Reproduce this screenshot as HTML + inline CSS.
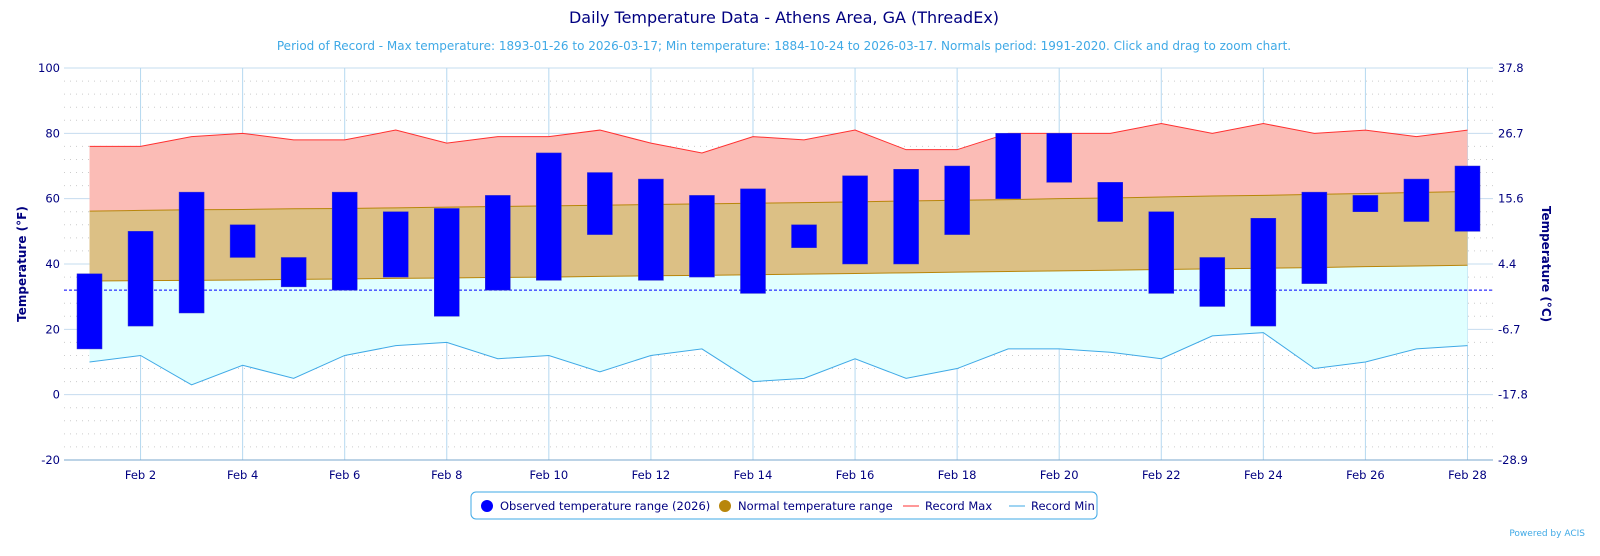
<!DOCTYPE html>
<html><head><meta charset="utf-8"><style>
body{margin:0;background:#fff;font-family:"DejaVu Sans","Liberation Sans",sans-serif}
svg text{font-family:"DejaVu Sans","Liberation Sans",sans-serif}
</style></head><body>
<svg id="c" width="1600" height="552" xmlns="http://www.w3.org/2000/svg">
<text x="784" y="23" text-anchor="middle" font-size="16" fill="#000080">Daily Temperature Data - Athens Area, GA (ThreadEx)</text>
<text x="784" y="50" text-anchor="middle" font-size="12" fill="#3fa9e6">Period of Record - Max temperature: 1893-01-26 to 2026-03-17; Min temperature: 1884-10-24 to 2026-03-17. Normals period: 1991-2020. Click and drag to zoom chart.</text>
<g id="plot"></g>
<text transform="translate(26,264) rotate(-90)" text-anchor="middle" font-size="12" font-weight="bold" fill="#000080">Temperature (°F)</text>
<text transform="translate(1542,264) rotate(90)" text-anchor="middle" font-size="12" font-weight="bold" fill="#000080">Temperature (°C)</text>
<g>
<rect x="471" y="492" width="626" height="27" rx="5" fill="#fff" stroke="#3fa9e6"/>
<g><circle cx="487" cy="506" r="6" fill="#0000ff"/><text x="500" y="510" font-size="11.5" fill="#000080">Observed temperature range (2026)</text></g>
<g><circle cx="725" cy="506" r="6" fill="#b8860b"/><text x="738" y="510" font-size="11.5" fill="#000080">Normal temperature range</text></g>
<g><line x1="903" y1="506" x2="919" y2="506" stroke="#ff3030"/><text x="925" y="510" font-size="11.5" fill="#000080">Record Max</text></g>
<g><line x1="1009" y1="506" x2="1025" y2="506" stroke="#3fa9e6"/><text x="1031" y="510" font-size="11.5" fill="#000080">Record Min</text></g>
</g>
<text x="1585" y="536" text-anchor="end" font-size="9" fill="#3fa9e6">Powered by ACIS</text>
</svg>
<script>
const days=[1,2,3,4,5,6,7,8,9,10,11,12,13,14,15,16,17,18,19,20,21,22,23,24,25,26,27,28];
const recMax=[76,76,79,80,78,78,81,77,79,79,81,77,74,79,78,81,75,75,80,80,80,83,80,83,80,81,79,81];
const recMin=[10,12,3,9,5,12,15,16,11,12,7,12,14,4,5,11,5,8,14,14,13,11,18,19,8,10,14,15];
const normMax=[56.2,56.4,56.6,56.7,56.9,57.0,57.2,57.4,57.6,57.8,58.0,58.2,58.4,58.6,58.8,59.0,59.3,59.5,59.7,60.0,60.2,60.5,60.8,61.0,61.3,61.6,61.9,62.2];
const normMin=[34.8,34.9,35.0,35.1,35.3,35.4,35.6,35.7,35.9,36.0,36.2,36.4,36.5,36.7,36.9,37.1,37.3,37.5,37.7,37.9,38.1,38.3,38.5,38.7,38.9,39.2,39.4,39.6];
const obsLow=[14,21,25,42,33,32,36,24,32,35,49,35,36,31,45,40,40,49,60,65,53,31,27,21,34,56,53,50];
const obsHigh=[37,50,62,52,42,62,56,57,61,74,68,66,61,63,52,67,69,70,80,80,65,56,42,54,62,61,66,70];
const yTicks=[-20,0,20,40,60,80,100];
const cTicks=["-28.9","-17.8","-6.7","4.4","15.6","26.7","37.8"];
const L=64,R=1493,T=68,B=460;
const X=d=>L+(d-0.5)*(R-L)/28;
const Y=v=>B-(v+20)*(B-T)/120;
const NS="http://www.w3.org/2000/svg";
const g=document.getElementById('plot');
function mk(t,a){const e=document.createElementNS(NS,t);for(const k in a)e.setAttribute(k,a[k]);g.appendChild(e);return e;}
for(let v=-16;v<100;v+=4){if(v%20===0)continue;const e=mk('line',{x1:L,x2:R,y1:Y(v),y2:Y(v),stroke:'#ccc','stroke-dasharray':'1,5'});

}
yTicks.forEach((v,i)=>{const e=mk('line',{x1:L,x2:R,y1:Y(v),y2:Y(v),stroke:'#c6dcef'});


const t=mk('text',{x:L-4,y:Y(v)+4,'text-anchor':'end','font-size':11.5,fill:'#000080'});t.textContent=v;


const c=mk('text',{x:R+5,y:Y(v)+4,'font-size':11.5,fill:'#000080'});c.textContent=cTicks[i];

});
days.forEach(d=>{if(d%2)return;const e=mk('line',{x1:X(d),x2:X(d),y1:T,y2:B,stroke:'#b5d8f0'});


const t=mk('text',{x:X(d),y:B+19,'text-anchor':'middle','font-size':11.5,fill:'#000080'});t.textContent='Feb '+d;

});
function band(top,bot,fill,name){let p=days.map((d,i)=>X(d)+','+Y(top[i])).join(' ');p+=' '+days.map((d,i)=>X(d)+','+Y(bot[i])).reverse().join(' ');
const e=mk('polygon',{points:p,fill:fill});

}
band(recMax,normMax,'#fbbcb6','record-max-band');
band(normMax,normMin,'#dcc085','normal-band');
band(normMin,recMin,'#e0ffff','record-min-band');
const nm=mk('polyline',{points:days.map((d,i)=>X(d)+','+Y(normMax[i])).join(' '),fill:'none',stroke:'#b8860b','stroke-width':1});


const nn=mk('polyline',{points:days.map((d,i)=>X(d)+','+Y(normMin[i])).join(' '),fill:'none',stroke:'#b8860b','stroke-width':1});


const fr=mk('line',{x1:L,x2:R,y1:Y(32),y2:Y(32),stroke:'#0000ff','stroke-dasharray':'3,2'});


const rx=mk('polyline',{points:days.map((d,i)=>X(d)+','+Y(recMax[i])).join(' '),fill:'none',stroke:'#ff3030','stroke-width':1});


const rn=mk('polyline',{points:days.map((d,i)=>X(d)+','+Y(recMin[i])).join(' '),fill:'none',stroke:'#3fa9e6','stroke-width':1});


days.forEach((d,i)=>{const b=mk('rect',{x:X(d)-12.5,y:Y(obsHigh[i]),width:25,height:Y(obsLow[i])-Y(obsHigh[i]),fill:'#0000ff',stroke:'#3333cc','stroke-width':0.5});

});
const ax=mk('line',{x1:L,x2:R,y1:B,y2:B,stroke:'#7aa7cc'});


</script>
</body></html>
